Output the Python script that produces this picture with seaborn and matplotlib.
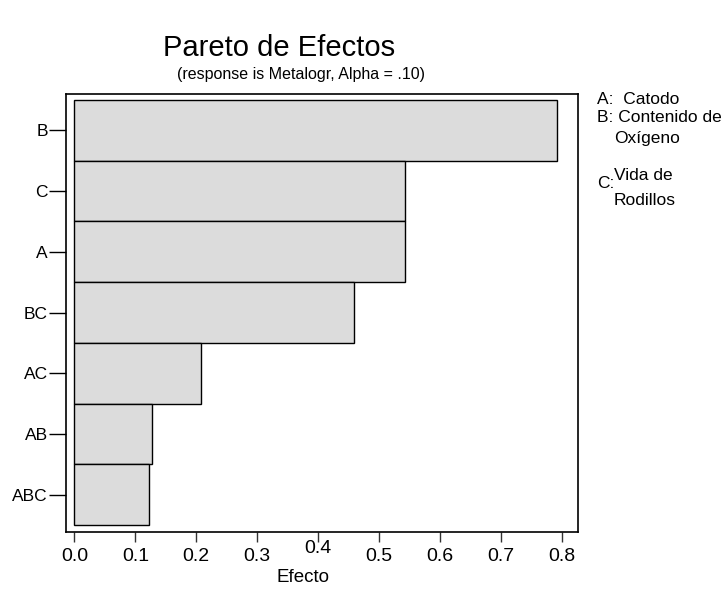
import pandas as pd
import seaborn as sns
import matplotlib
matplotlib.use('Agg')
import matplotlib.pyplot as plt
import matplotlib.transforms as mtransforms

# efectos estandarizados
terms = ['B', 'C', 'A', 'BC', 'AC', 'AB', 'ABC']
effects = [0.791, 0.543, 0.543, 0.458, 0.208, 0.128, 0.123]
xticks = [0.0, 0.1, 0.2, 0.3, 0.4, 0.5, 0.6, 0.7, 0.8]

df = pd.DataFrame({'term': terms, 'effect': effects})

sns.set_style('white')
plt.rcParams['font.family'] = ['Liberation Sans', 'DejaVu Sans']
plt.rcParams['text.color'] = 'black'
plt.rcParams['axes.labelcolor'] = 'black'
plt.rcParams['xtick.color'] = 'black'
plt.rcParams['ytick.color'] = 'black'

fig = plt.figure(figsize=(7.26, 5.89), dpi=100)
ax = fig.add_axes([66 / 726, 1 - 531.7 / 589, (578 - 66) / 726, (531.7 - 94) / 589])

sns.barplot(data=df, x='effect', y='term', orient='h', color='#dcdcdc',
            saturation=1, width=1.0, edgecolor='black', linewidth=1.0, ax=ax)

ax.set_xlim(-0.0137, 0.826)
ax.set_ylim(6.61, -0.6)
ax.set_xticks(xticks)
ax.set_xticklabels(['%.1f' % t for t in xticks])
for s in ax.spines.values():
    s.set_color('black')
    s.set_linewidth(1.2)
    s.set_visible(True)
ax.tick_params(axis='y', length=12, width=1, color='black', labelsize=12.5, pad=1, left=True)
ax.tick_params(axis='x', length=7, width=1, color='#333333', labelsize=14, pad=5, bottom=True)

# la etiqueta 0.4 aparece algo elevada en el original
lab = ax.get_xticklabels()[4]
lab.set_transform(lab.get_transform() + mtransforms.ScaledTranslation(0, 8 / 100, fig.dpi_scale_trans))

ax.set_ylabel('')
ax.set_xlabel('Efecto', fontsize=13.5, labelpad=0, color='black')
ax.xaxis.set_label_coords((303 - 66) / (578 - 66), -0.085)

fig.text(163 / 726, 1 - 56 / 589, 'Pareto de Efectos', fontsize=21, ha='left', va='baseline')
fig.text(177 / 726, 1 - 79 / 589, '(response is Metalogr, Alpha = .10)', fontsize=11.5,
         ha='left', va='baseline')

notes = [(597, 104, 'A:  Catodo'), (597, 122, 'B: Contenido de'), (614, 143, 'Oxígeno'),
         (597, 188, 'C:'), (614, 180, 'Vida de'), (614, 205, 'Rodillos')]
for x, y, t in notes:
    fig.text(x / 726, 1 - y / 589, t, fontsize=12.5, ha='left', va='baseline')

fig.savefig('out.png', dpi=100)
